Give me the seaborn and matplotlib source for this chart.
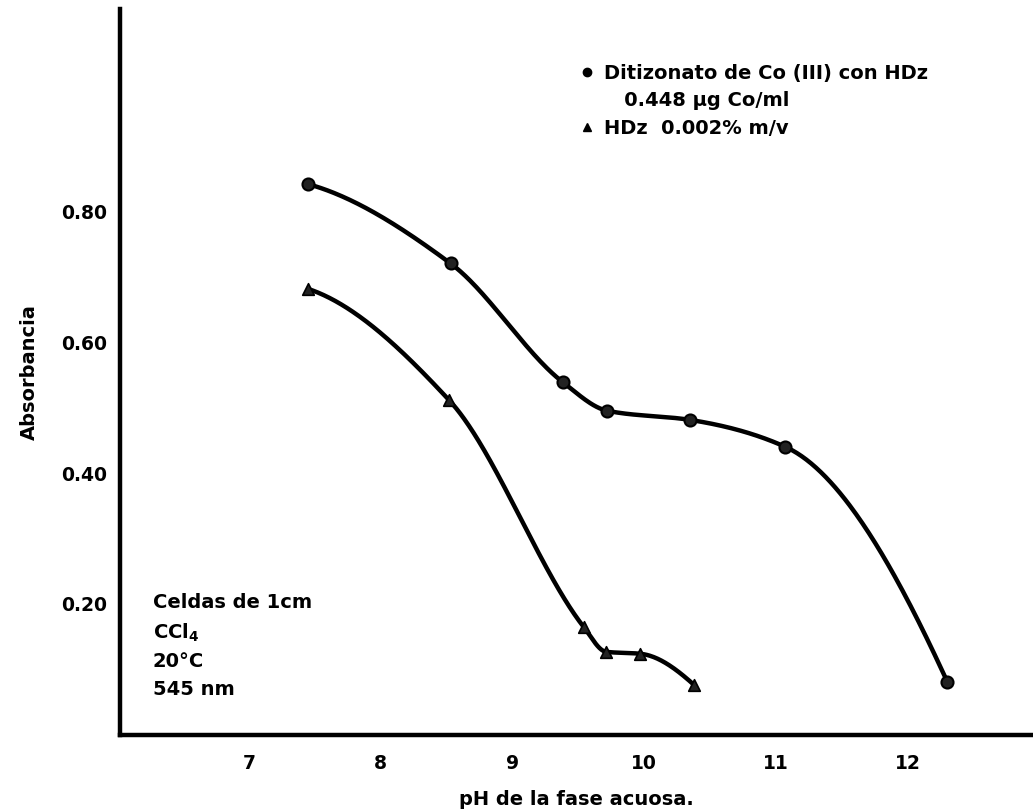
import numpy as np
import pandas as pd
import matplotlib
matplotlib.use("Agg")
import matplotlib.pyplot as plt
import seaborn as sns
from matplotlib.lines import Line2D

# ---- data ----
ph_co = [7.45, 8.53, 9.38, 9.72, 10.35, 11.07, 12.3]
abs_co = [0.841, 0.720, 0.539, 0.495, 0.481, 0.440, 0.081]
ph_hdz = [7.45, 8.52, 9.54, 9.71, 9.97, 10.38]
abs_hdz = [0.681, 0.511, 0.165, 0.127, 0.124, 0.076]

label_co = "Ditizonato de Co (III) con HDz"
label_co2 = "   0.448 µg Co/ml"
label_hdz = "HDz  0.002% m/v"
x_ticks = [7, 8, 9, 10, 11, 12]
y_ticks = [0.20, 0.40, 0.60, 0.80]
notes = "Celdas de 1cm\nCCl$_4$\n20°C\n545 nm"


def _end_slope(h0, h1, d0, d1):
    m = ((2 * h0 + h1) * d0 - h0 * d1) / (h0 + h1)
    if np.sign(m) != np.sign(d0):
        m = 0.0
    elif np.sign(d0) != np.sign(d1) and abs(m) > abs(3 * d0):
        m = 3 * d0
    return m


def pchip(x, y, n=400):
    x = np.asarray(x, float)
    y = np.asarray(y, float)
    h = np.diff(x)
    d = np.diff(y) / h
    m = np.zeros_like(y)
    for k in range(1, len(x) - 1):
        if d[k - 1] * d[k] > 0:
            w1 = 2 * h[k] + h[k - 1]
            w2 = h[k] + 2 * h[k - 1]
            m[k] = (w1 + w2) / (w1 / d[k - 1] + w2 / d[k])
    m[0] = _end_slope(h[0], h[1], d[0], d[1])
    m[-1] = _end_slope(h[-1], h[-2], d[-1], d[-2])
    xs = np.linspace(x[0], x[-1], n)
    idx = np.clip(np.searchsorted(x, xs) - 1, 0, len(x) - 2)
    t = (xs - x[idx]) / h[idx]
    h00 = 2 * t**3 - 3 * t**2 + 1
    h10 = t**3 - 2 * t**2 + t
    h01 = -2 * t**3 + 3 * t**2
    h11 = t**3 - t**2
    ys = h00 * y[idx] + h10 * h[idx] * m[idx] + h01 * y[idx + 1] + h11 * h[idx] * m[idx + 1]
    return xs, ys


sns.set_theme(style="white", rc={"text.color": "black", "axes.labelcolor": "black",
                                 "xtick.color": "black", "ytick.color": "black"})
plt.rcParams["font.family"] = ["DejaVu Sans"]
plt.rcParams["font.weight"] = "bold"

fig = plt.figure(figsize=(10.33, 8.09), dpi=100)
ax = fig.add_axes([0.116, 0.0915, 0.884, 0.897])

df_co = pd.DataFrame({"pH": ph_co, "A": abs_co})
df_hdz = pd.DataFrame({"pH": ph_hdz, "A": abs_hdz})

xs, ys = pchip(ph_co, abs_co)
sns.lineplot(x=xs, y=ys, ax=ax, color="black", lw=3.2, sort=False)
xs, ys = pchip(ph_hdz, abs_hdz)
sns.lineplot(x=xs, y=ys, ax=ax, color="black", lw=3.2, sort=False)

sns.scatterplot(data=df_co, x="pH", y="A", ax=ax, marker="o", s=75,
                color="#222222", edgecolor="black", linewidth=1.5, zorder=5)
sns.scatterplot(data=df_hdz, x="pH", y="A", ax=ax, marker="^", s=70,
                color="#222222", edgecolor="black", linewidth=1.2, zorder=5)

ax.set_xlim(6.02, 12.95)
ax.set_ylim(0, 1.108)
ax.set_xticks(x_ticks)
ax.set_xticklabels([str(v) for v in x_ticks])
ax.set_yticks(y_ticks)
ax.set_yticklabels([f"{v:.2f}" for v in y_ticks])
ax.tick_params(axis="both", direction="out", length=6, width=1.5,
               labelsize=13.5, colors="black", pad=3)
ax.tick_params(axis="x", pad=8)
for lab in ax.get_xticklabels() + ax.get_yticklabels():
    lab.set_fontweight("bold")

for s in ["top", "right"]:
    ax.spines[s].set_visible(False)
for s in ["left", "bottom"]:
    ax.spines[s].set_linewidth(3.2)
    ax.spines[s].set_color("black")

ax.set_xlabel("pH de la fase acuosa.", fontsize=14, fontweight="bold", labelpad=12)
ax.set_ylabel("Absorbancia", fontsize=14, fontweight="bold", labelpad=16)

handles = [
    Line2D([], [], marker="o", ls="none", color="black", markersize=6),
    Line2D([], [], ls="none", marker=None),
    Line2D([], [], marker="^", ls="none", color="black", markersize=6),
]
leg = ax.legend(handles, [label_co, label_co2, label_hdz], loc="upper left",
                bbox_to_anchor=(0.495, 0.935), frameon=False,
                prop={"size": 14, "weight": "bold"}, handlelength=0.8,
                handletextpad=0.45, labelspacing=0.42, borderaxespad=0)

ax.text(0.036, 0.195, notes, transform=ax.transAxes, fontsize=14,
        fontweight="bold", va="top", ha="left", linespacing=1.55)

fig.savefig("out.png", dpi=100)
